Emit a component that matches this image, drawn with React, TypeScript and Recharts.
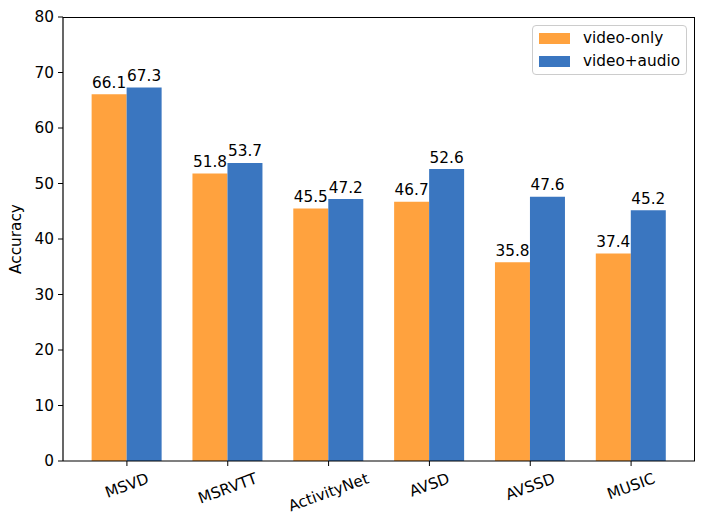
import React from "react";
import { BarChart, Bar, XAxis, YAxis, LabelList } from "recharts";

const categories = ["MSVD", "MSRVTT", "ActivityNet", "AVSD", "AVSSD", "MUSIC"];
const videoOnly = [66.1, 51.8, 45.5, 46.7, 35.8, 37.4];
const videoAudio = [67.3, 53.7, 47.2, 52.6, 47.6, 45.2];
const yTicks = [0, 10, 20, 30, 40, 50, 60, 70, 80];

const data = categories.map((c, i) => ({ name: c, vo: videoOnly[i], va: videoAudio[i] }));

const FONT = "'DejaVu Sans', sans-serif";
const FS = 15.3;
const ORANGE = "#FFA23E";
const BLUE = "#3A76C0";

function measure(text: string): number {
  try {
    const ctx = document.createElement("canvas").getContext("2d");
    if (ctx) {
      ctx.font = `${FS}px 'DejaVu Sans'`;
      return ctx.measureText(text).width;
    }
  } catch (e) {}
  return text.length * 9;
}

const XTick = (props: any) => {
  const { x, y, payload } = props;
  const text = String(payload.value);
  const w = measure(text);
  const h = FS * 0.9;
  const a = (20 * Math.PI) / 180;
  const bh = w * Math.sin(a) + h * Math.cos(a);
  const top = y + 3.5;
  const cy = top + bh / 2;
  return (
    <text
      x={x}
      y={cy}
      textAnchor="middle"
      dominantBaseline="central"
      fontFamily={FONT}
      fontSize={FS}
      fill="#000"
      transform={`rotate(-20 ${x} ${cy})`}
    >
      {text}
    </text>
  );
};

const ValueLabel = (props: any) => {
  const { x, y, width, value } = props;
  return (
    <text
      x={Number(x) + Number(width) / 2}
      y={Number(y) - 6.5}
      textAnchor="middle"
      fontFamily={FONT}
      fontSize={FS}
      fill="#000"
    >
      {Number(value).toFixed(1)}
    </text>
  );
};

const LegendBox = () => (
  <div
    style={{
      position: "absolute",
      left: 532,
      top: 25,
      width: 155,
      height: 50,
      border: "1px solid #cccccc",
      borderRadius: 4,
      background: "rgba(255,255,255,0.8)",
      fontFamily: FONT,
      fontSize: FS,
      boxSizing: "border-box",
    }}
  >
    {[
      { c: ORANGE, t: "video-only", y: 6 },
      { c: BLUE, t: "video+audio", y: 29 },
    ].map((e) => (
      <div key={e.t} style={{ position: "absolute", left: 6, top: e.y, display: "flex", alignItems: "center", height: 13 }}>
        <div style={{ width: 31, height: 10.5, background: e.c }} />
        <span style={{ marginLeft: 13, lineHeight: "13px", whiteSpace: "nowrap" }}>{e.t}</span>
      </div>
    ))}
  </div>
);

export default function App() {
  return (
    <div style={{ position: "absolute", left: 0, top: 0, width: 706, height: 527, background: "#fff" }}>
      <BarChart
        width={706}
        height={527}
        data={data}
        margin={{ top: 17, right: 11, left: 0, bottom: 0 }}
        barCategoryGap="15%"
        barGap={0}
      >
        <XAxis
          dataKey="name"
          height={66}
          tickSize={5}
          tickLine={{ stroke: "#000" }}
          axisLine={{ stroke: "#000", strokeWidth: 1.2 }}
          tick={<XTick />}
          padding={{ left: 13.5, right: 13.5 }}
          interval={0}
        />
        <YAxis
          domain={[0, 80]}
          ticks={yTicks}
          width={63}
          tickSize={5}
          tickMargin={4}
          tickLine={{ stroke: "#000" }}
          axisLine={{ stroke: "#000", strokeWidth: 1.2 }}
          tick={{ fontFamily: FONT, fontSize: FS, fill: "#000" }}
          label={{
            value: "Accuracy",
            angle: -90,
            position: "insideLeft",
            dx: 11,
            dy: 0,
            style: { fontFamily: FONT, fontSize: FS, fill: "#000", textAnchor: "middle" },
          }}
        />
        <Bar dataKey="vo" name="video-only" fill={ORANGE} isAnimationActive={false}>
          <LabelList dataKey="vo" content={<ValueLabel />} />
        </Bar>
        <Bar dataKey="va" name="video+audio" fill={BLUE} isAnimationActive={false}>
          <LabelList dataKey="va" content={<ValueLabel />} />
        </Bar>
      </BarChart>
      <div
        style={{
          position: "absolute",
          left: 63,
          top: 17,
          width: 632,
          height: 444,
          borderTop: "1.2px solid #000",
          borderRight: "1.2px solid #000",
          boxSizing: "border-box",
          pointerEvents: "none",
        }}
      />
      <LegendBox />
    </div>
  );
}
